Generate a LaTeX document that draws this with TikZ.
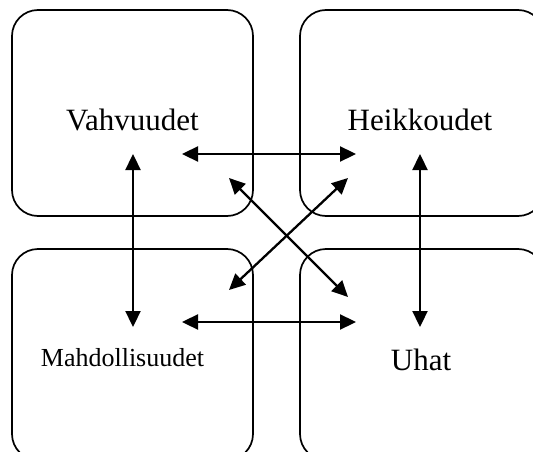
\documentclass[tikz,border=0pt]{standalone}
\usepackage{fontspec}
\setmainfont{Liberation Serif}
\usetikzlibrary{arrows.meta}
\begin{document}
\begin{tikzpicture}[x=1pt,y=-1pt,
  quad/.style={draw, line width=1.7pt, rounded corners=26pt, inner sep=0pt},
  lbl/.style={anchor=base, inner sep=0pt, font=\fontsize{31}{36}\selectfont},
  lblsmall/.style={anchor=base, inner sep=0pt, font=\fontsize{26}{30}\selectfont},
  link/.style={line width=2.3pt, {Triangle[length=16pt,width=15pt]}-{Triangle[length=16pt,width=15pt]}}]
\useasboundingbox (0,0) rectangle (533,452);
\clip (0,0) rectangle (533,452);
% boxes
\draw[quad] (12,10) rectangle (253,216);
\draw[quad] (300,10) rectangle (544,216);
\draw[quad] (12,249) rectangle (253,460);
\draw[quad] (300,249) rectangle (544,460);
% labels
\node[lbl] (s) at (132.5,130.5) {Vahvuudet};
\node[lbl] (w) at (420,130.5) {Heikkoudet};
\node[lblsmall] (o) at (122.5,366) {Mahdollisuudet};
\node[lbl] (t) at (421,370) {Uhat};
% arrow ends
\coordinate (sv) at (133,154);
\coordinate (ov) at (133,327);
\coordinate (wv) at (420,154);
\coordinate (tv) at (420,327);
\coordinate (sh) at (182,154);
\coordinate (wh) at (356,154);
\coordinate (oh) at (182,322);
\coordinate (th) at (356,322);
\coordinate (sd) at (229,178);
\coordinate (td) at (348,297);
\coordinate (wd) at (348,178);
\coordinate (od) at (229,290);
% connectors
\draw[link] (sv) -- (ov);
\draw[link] (wv) -- (tv);
\draw[link] (sh) -- (wh);
\draw[link] (oh) -- (th);
\draw[link] (sd) -- (td);
\draw[link] (wd) -- (od);
\end{tikzpicture}
\end{document}
